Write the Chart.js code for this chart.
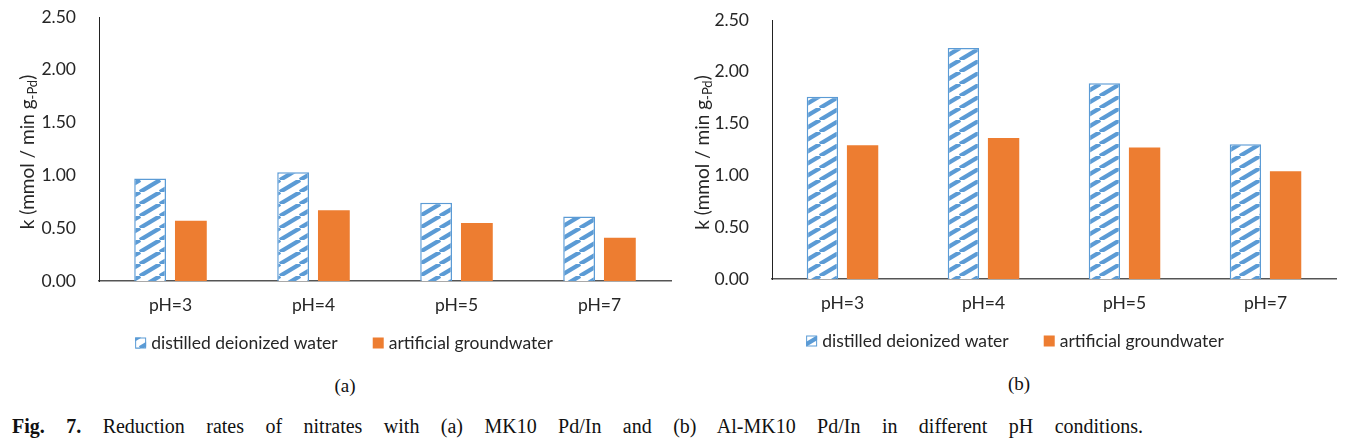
<!DOCTYPE html>
<html>
<head>
<meta charset="utf-8">
<script src="https://cdn.jsdelivr.net/npm/chart.js@4.4.1/dist/chart.umd.min.js"></script>
<style>
  body { margin: 0; background: #fff; width: 1354px; height: 447px; overflow: hidden; position: relative; }
  canvas { position: absolute; top: 0; }
  #chartA { left: 0; }
  #chartB { left: 680px; }
  .sub { position: absolute; font: 19px "Liberation Serif", serif; color: #111; text-align: center; width: 40px; }
  #caption { position: absolute; left: 12px; top: 415px; width: 1131px; font: 20px "Liberation Serif", serif;
             color: #111; text-align: justify; text-align-last: justify; white-space: nowrap; }
</style>
</head>
<body>
<canvas id="chartA" width="680" height="365"></canvas>
<canvas id="chartB" width="674" height="365"></canvas>
<div class="sub" style="left:325px; top:375px;">(a)</div>
<div class="sub" style="left:999px; top:373px;">(b)</div>
<div id="caption"><b>Fig. 7.</b> Reduction rates of nitrates with (a) MK10 Pd/In and (b) Al-MK10 Pd/In in different pH conditions.</div>

<script>
// data
const phLabels = ["pH=3", "pH=4", "pH=5", "pH=7"];
const distilledA = [0.97, 1.03, 0.74, 0.61];
const groundwaterA = [0.57, 0.67, 0.55, 0.41];
const distilledB = [1.76, 2.23, 1.89, 1.30];
const groundwaterB = [1.29, 1.36, 1.27, 1.04];
const seriesNames = ["distilled deionized water", "artificial groundwater"];
const yTicks = [0, 0.5, 1.0, 1.5, 2.0, 2.5];

const BLUE = "#5B9BD5";
const ORANGE = "#ED7D31";
const TEXT = "#262626";
const FONT = 17.5;

// diagonal hatch like the excel pattern fill
function makeHatch() {
  const tile = document.createElement("canvas");
  tile.width = 20;
  tile.height = 12;
  const c = tile.getContext("2d");
  c.fillStyle = "#fff";
  c.fillRect(0, 0, 20, 12);
  c.strokeStyle = BLUE;
  c.lineWidth = 4.2;
  [-20, 0, 20].forEach(dx => {
    c.beginPath();
    c.moveTo(dx, 12);
    c.lineTo(dx + 20, 0);
    c.stroke();
  });
  return document.createElement("canvas").getContext("2d").createPattern(tile, "repeat");
}
const hatch = makeHatch();

// y title with the subscript
const axisTitle = {
  id: "axisTitle",
  afterDraw(chart, args, opts) {
    const { ctx, chartArea } = chart;
    const main = "k (mmol / min g", sub = "-Pd", end = ")";
    const big = "19px Lato", small = "13px Lato";
    ctx.save();
    ctx.translate(opts.x, (chartArea.top + chartArea.bottom) / 2 + 3);
    ctx.rotate(-Math.PI / 2);
    ctx.fillStyle = TEXT;
    ctx.textBaseline = "middle";
    ctx.font = big;
    const w1 = ctx.measureText(main).width;
    const w3 = ctx.measureText(end).width;
    ctx.font = small;
    const w2 = ctx.measureText(sub).width;
    let x = -(w1 + w2 + w3) / 2;
    ctx.font = big;
    ctx.fillText(main, x, 0);
    x += w1;
    ctx.font = small;
    ctx.fillText(sub, x, 5);
    x += w2;
    ctx.font = big;
    ctx.fillText(end, x, 0);
    ctx.restore();
  }
};

// legend drawn by hand so the item gap and row position can match
const bottomLegend = {
  id: "bottomLegend",
  afterDraw(chart, args, opts) {
    const ctx = chart.ctx;
    const box = 11, gap = 5, spacing = 35;
    ctx.save();
    ctx.font = FONT + "px Lato";
    ctx.textBaseline = "middle";
    const items = chart.data.datasets.map(ds => ({ ds, w: ctx.measureText(ds.label).width }));
    const total = items.reduce((s, it) => s + box + gap + it.w, 0) + spacing * (items.length - 1);
    let x = opts.cx - total / 2;
    const y = opts.y;
    items.forEach(it => {
      ctx.fillStyle = it.ds.backgroundColor;
      ctx.fillRect(x, y - box / 2, box, box);
      if (it.ds.borderWidth) {
        ctx.strokeStyle = it.ds.borderColor;
        ctx.lineWidth = 1;
        ctx.strokeRect(x + 0.5, y - box / 2 + 0.5, box - 1, box - 1);
      }
      x += box + gap;
      ctx.fillStyle = TEXT;
      ctx.fillText(it.ds.label, x, y);
      x += it.w + spacing;
    });
    ctx.restore();
  }
};

function makeChart(id, distilled, groundwater, lay) {
  const canvas = document.getElementById(id);
  return new Chart(canvas.getContext("2d"), {
    type: "bar",
    data: {
      labels: phLabels,
      datasets: [
        {
          label: seriesNames[0],
          data: distilled,
          backgroundColor: hatch,
          borderColor: BLUE,
          borderWidth: 1.5,
          categoryPercentage: 0.57,
          barPercentage: 0.78
        },
        {
          label: seriesNames[1],
          data: groundwater,
          backgroundColor: ORANGE,
          borderWidth: 0,
          categoryPercentage: 0.57,
          barPercentage: 0.78
        }
      ]
    },
    options: {
      responsive: false,
      animation: false,
      layout: { padding: { left: 0, right: lay.right, top: lay.top, bottom: 0 } },
      plugins: {
        legend: { display: false },
        tooltip: { enabled: false },
        axisTitle: { x: lay.titleX },
        bottomLegend: { cx: lay.legendX, y: lay.legendY }
      },
      scales: {
        x: {
          afterFit: (scale) => {
            scale.height = canvas.height - lay.bottom;
            scale.paddingLeft = 0;
            scale.paddingRight = 0;
          },
          grid: { display: false, drawTicks: false },
          border: { display: true, color: "#555", width: 1.5 },
          ticks: { color: TEXT, font: { family: "Lato", size: FONT }, padding: 13.5 }
        },
        y: {
          min: 0,
          max: 2.5,
          afterBuildTicks: (scale) => { scale.ticks = yTicks.map(v => ({ value: v })); },
          afterFit: (scale) => {
            scale.width = lay.axisX;
            scale.paddingTop = 0;
            scale.paddingBottom = 0;
          },
          grid: { display: false, drawTicks: false },
          border: { display: true, color: "#222", width: 1 },
          ticks: {
            color: TEXT,
            font: { family: "Lato", size: FONT },
            padding: 23,
            callback: (v) => Number(v).toFixed(2)
          }
        }
      }
    },
    plugins: [axisTitle, bottomLegend]
  });
}

makeChart("chartA", distilledA, groundwaterA,
  { axisX: 99, right: 9, top: 17, bottom: 281, titleX: 28, legendX: 344, legendY: 343 });
makeChart("chartB", distilledB, groundwaterB,
  { axisX: 92, right: 18, top: 20, bottom: 279, titleX: 23, legendX: 335, legendY: 341 });
</script>
</body>
</html>
